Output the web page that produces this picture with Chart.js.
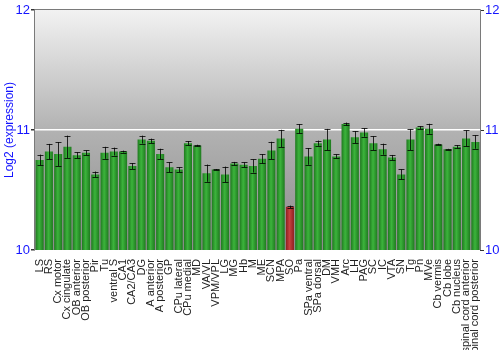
<!DOCTYPE html>
<html>
<head>
<meta charset="utf-8">
<script src="https://cdn.jsdelivr.net/npm/chart.js@4"></script>
<style>
  html, body { margin: 0; padding: 0; background: #fff; }
  #wrap { width: 500px; height: 350px; }
</style>
</head>
<body>
<div id="wrap"><canvas id="myChart"></canvas></div>
<script>
const regions = ["LS", "RS", "Cx motor", "Cx cingulate", "OB anterior", "OB posterior", "Pir", "Tu",
    "ventral S", "CA1", "CA2/CA3", "DG", "A anterior", "A posterior", "GP", "CPu lateral",
    "CPu medial", "MD", "VA/VL", "VPM/VPL", "LG", "MG", "Hb", "M", "ME", "SCN", "MPA", "SO",
    "Pa", "SPa ventral", "SPa dorsal", "DM", "VMH", "Arc", "LH", "PAG", "SC", "IC", "VTA", "SN",
    "Tg", "Pn", "MVe", "Cb vermis", "Cb lobe", "Cb nucleus", "spinal cord anterior", "spinal cord posterior"];

const expression = [10.75, 10.82, 10.80, 10.86, 10.79, 10.81, 10.63, 10.81,
    10.82, 10.82, 10.70, 10.92, 10.91, 10.80, 10.69, 10.67,
    10.89, 10.87, 10.64, 10.67, 10.63, 10.72, 10.71, 10.70, 10.76, 10.83, 10.93, 10.36,
    11.01, 10.78, 10.89, 10.92, 10.78, 11.05, 10.94, 10.98, 10.89, 10.84, 10.77, 10.63,
    10.92, 11.02, 11.01, 10.88, 10.84, 10.86, 10.93, 10.90];

const errors = [0.045, 0.064, 0.10, 0.093, 0.024, 0.02, 0.024, 0.05,
    0.033, 0.008, 0.025, 0.033, 0.018, 0.044, 0.042, 0.02,
    0.018, 0.007, 0.072, 0.005, 0.065, 0.014, 0.02, 0.055, 0.039, 0.072, 0.072, 0.01,
    0.039, 0.07, 0.022, 0.089, 0.017, 0.012, 0.05, 0.036, 0.058, 0.046, 0.022, 0.042,
    0.087, 0.012, 0.042, 0.006, 0.003, 0.014, 0.067, 0.056];

const highlighted = ["SO"];
const yTicks = [10, 11, 12];

// gray gradient behind the bars, frame, white line at 11
const plotBackground = {
    id: 'plotBackground',
    beforeDraw(chart) {
        const { ctx, chartArea: a } = chart;
        const g = ctx.createLinearGradient(0, a.top, 0, a.bottom);
        g.addColorStop(0, '#f2f2f2');
        g.addColorStop(0.5, '#b2b2b2');
        g.addColorStop(1, '#8c8c8c');
        ctx.save();
        ctx.fillStyle = g;
        ctx.fillRect(a.left, a.top, a.right - a.left, a.bottom - a.top);
        ctx.restore();
    },
    afterDraw(chart) {
        const { ctx, chartArea: a } = chart;
        ctx.save();
        ctx.strokeStyle = '#7a7a7a';
        ctx.lineWidth = 1;
        ctx.beginPath();
        ctx.moveTo(a.left - 0.5, a.bottom);
        ctx.lineTo(a.left - 0.5, a.top - 0.5);
        ctx.lineTo(a.right + 0.5, a.top - 0.5);
        ctx.lineTo(a.right + 0.5, a.bottom);
        ctx.stroke();
        ctx.restore();
    }
};

const errorBars = {
    id: 'errorBars',
    afterDatasetsDraw(chart) {
        const { ctx, scales } = chart;
        const meta = chart.getDatasetMeta(0);
        ctx.save();
        ctx.strokeStyle = 'rgba(0,0,0,0.8)';
        ctx.lineWidth = 1;
        meta.data.forEach((bar, i) => {
            const x = Math.round(bar.x) + 0.5;
            const hi = scales.y.getPixelForValue(expression[i] + errors[i]);
            const lo = scales.y.getPixelForValue(expression[i] - errors[i]);
            ctx.beginPath();
            ctx.moveTo(x, hi);
            ctx.lineTo(x, lo);
            ctx.moveTo(x - 3, Math.round(hi) + 0.5);
            ctx.lineTo(x + 3, Math.round(hi) + 0.5);
            ctx.moveTo(x - 3, Math.round(lo) + 0.5);
            ctx.lineTo(x + 3, Math.round(lo) + 0.5);
            ctx.stroke();
        });
        ctx.restore();
    }
};

function barFill(context) {
    const chart = context.chart;
    const i = context.dataIndex;
    const red = highlighted.includes(regions[i]);
    const dark = red ? '#8e2020' : '#1f7a1f';
    const light = red ? '#c84040' : '#3cb43c';
    if (!chart.chartArea || i === undefined) return light;
    const x = chart.scales.x.getPixelForValue(i);
    const g = chart.ctx.createLinearGradient(x - 4, 0, x + 4, 0);
    g.addColorStop(0, dark);
    g.addColorStop(0.45, light);
    g.addColorStop(1, dark);
    return g;
}

const blue = '#1414ff';

new Chart(document.getElementById('myChart'), {
    type: 'bar',
    data: {
        labels: regions,
        datasets: [{
            data: expression,
            backgroundColor: barFill,
            borderWidth: 0,
            categoryPercentage: 1.0,
            barPercentage: 0.87
        }]
    },
    options: {
        responsive: true,
        maintainAspectRatio: false,
        animation: false,
        layout: { padding: { top: 10, bottom: 0, left: 0, right: 0 } },
        plugins: {
            legend: { display: false },
            tooltip: { enabled: false }
        },
        scales: {
            x: {
                grid: { display: false },
                border: { display: false },
                ticks: {
                    autoSkip: false,
                    minRotation: 90,
                    maxRotation: 90,
                    padding: 1,
                    color: '#222',
                    font: { family: 'Liberation Sans, Arial, sans-serif', size: 11 }
                },
                afterFit(scale) { scale.height = 100; }
            },
            y: {
                min: 10,
                max: 12,
                afterBuildTicks(scale) { scale.ticks = yTicks.map(v => ({ value: v })); },
                grid: {
                    color: ctx => (ctx.tick && ctx.tick.value === 11) ? '#ffffff' : 'rgba(0,0,0,0)',
                    tickColor: '#333',
                    tickLength: 4,
                    lineWidth: 1.5
                },
                border: { display: false },
                ticks: {
                    color: blue,
                    padding: 1,
                    font: { family: 'Liberation Sans, Arial, sans-serif', size: 13 }
                },
                title: {
                    display: true,
                    text: 'Log2 (expression)',
                    color: blue,
                    padding: { top: 2, bottom: 0 },
                    font: { family: 'Liberation Sans, Arial, sans-serif', size: 12 }
                },
                afterFit(scale) { scale.width = 35; }
            },
            y2: {
                position: 'right',
                min: 10,
                max: 12,
                afterBuildTicks(scale) { scale.ticks = yTicks.map(v => ({ value: v })); },
                grid: { drawOnChartArea: false, tickColor: '#333', tickLength: 4 },
                border: { display: false },
                ticks: {
                    color: blue,
                    padding: 1,
                    font: { family: 'Liberation Sans, Arial, sans-serif', size: 13 }
                },
                afterFit(scale) { scale.width = 20; }
            }
        }
    },
    plugins: [plotBackground, errorBars]
});
</script>
</body>
</html>
